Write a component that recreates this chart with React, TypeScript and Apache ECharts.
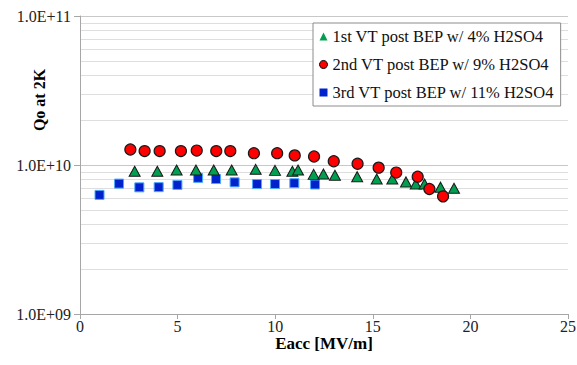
import React, { useEffect, useRef } from "react";
import * as echarts from "echarts";

const seriesNames = [
  "1st VT post BEP w/ 4% H2SO4",
  "2nd VT post BEP w/ 9% H2SO4",
  "3rd VT post BEP w/ 11% H2SO4",
];

const vt1Eacc = [2.8, 3.96, 4.95, 5.94, 6.85, 7.77, 9.0, 9.99, 10.88, 11.17, 11.97, 12.47, 13.06, 14.2, 15.2, 16.0, 16.7, 17.2, 17.65, 18.47, 19.16];
const vt1Q = [9.08e9, 9.08e9, 9.25e9, 9.25e9, 9.25e9, 9.25e9, 9.35e9, 9.2e9, 9.08e9, 9.25e9, 8.65e9, 8.7e9, 8.53e9, 8.35e9, 8.06e9, 8.06e9, 7.7e9, 7.45e9, 7.45e9, 7.1e9, 6.98e9];

const vt2Eacc = [2.58, 3.31, 4.08, 5.17, 5.98, 6.98, 7.7, 8.91, 10.1, 11.0, 11.99, 13.0, 14.22, 15.3, 16.2, 17.3, 17.9, 18.6];
const vt2Q = [1.27e10, 1.24e10, 1.24e10, 1.24e10, 1.25e10, 1.24e10, 1.24e10, 1.2e10, 1.2e10, 1.16e10, 1.14e10, 1.06e10, 1.02e10, 9.6e9, 8.9e9, 8.35e9, 6.9e9, 6.16e9];

const vt3Eacc = [1.0, 2.0, 3.04, 4.03, 4.99, 6.05, 6.97, 7.92, 9.07, 9.99, 10.98, 12.04];
const vt3Q = [6.3e9, 7.5e9, 7.08e9, 7.1e9, 7.35e9, 8.2e9, 8.05e9, 7.65e9, 7.45e9, 7.45e9, 7.55e9, 7.4e9];

const minorGridValues = [2e9, 3e9, 4e9, 5e9, 6e9, 7e9, 8e9, 9e9, 2e10, 3e10, 4e10, 5e10, 6e10, 7e10, 8e10, 9e10];

const FONT = "Liberation Serif";

const zip = (xs: number[], ys: number[]) => xs.map((x, i) => [x, ys[i]]);

export default function App() {
  const ref = useRef<HTMLDivElement>(null);
  useEffect(() => {
    if (!ref.current) return;
    const chart = echarts.init(ref.current, null, { renderer: "svg" });
    chart.setOption({
      animation: false,
      backgroundColor: "#ffffff",
      textStyle: { fontFamily: FONT },
      grid: { left: 80, right: 9, top: 16, bottom: 51, containLabel: false, outerBoundsMode: "none" },
      xAxis: {
        type: "value",
        min: 0,
        max: 25,
        interval: 5,
        name: "Eacc [MV/m]",
        nameLocation: "middle",
        nameGap: 21,
        nameMoveOverlap: false,
        nameTextStyle: { fontFamily: FONT, fontWeight: "bold", fontSize: 17, color: "#000" },
        axisLine: { show: true, lineStyle: { color: "#a6a6a6" } },
        axisTick: { show: true, inside: false, length: 5, lineStyle: { color: "#a6a6a6" } },
        axisLabel: { fontFamily: FONT, fontSize: 16, color: "#222", margin: 4 },
        splitLine: { show: false },
      },
      yAxis: {
        type: "log",
        logBase: 10,
        min: 1e9,
        max: 1e11,
        name: "Qo at 2K",
        nameLocation: "middle",
        nameRotate: 90,
        nameGap: 33,
        nameMoveOverlap: false,
        nameTextStyle: {
          fontFamily: FONT,
          fontWeight: "bold",
          fontSize: 16,
          color: "#000",
          padding: [0, 0, 0, 130],
        },
        axisLine: { show: true, lineStyle: { color: "#a6a6a6" } },
        axisTick: { show: true, inside: false, length: 6, lineStyle: { color: "#a6a6a6" } },
        axisLabel: {
          fontFamily: FONT,
          fontSize: 16,
          color: "#222",
          margin: 9,
          formatter: (v: number) => {
            const e = Math.round(Math.log10(v));
            return "1.0E+" + String(e).padStart(2, "0");
          },
        },
        splitLine: { show: true, lineStyle: { color: "#c8c8c8", width: 1 } },
      },
      legend: {
        orient: "vertical",
        left: 313,
        top: 23,
        padding: [5, 6, 5, 6],
        itemGap: 11,
        itemWidth: 8,
        itemHeight: 8,
        backgroundColor: "#ffffff",
        borderColor: "#8c8c8c",
        borderWidth: 1,
        textStyle: { fontFamily: FONT, fontSize: 16.5, color: "#111" },
        data: [
          { name: seriesNames[0], icon: "triangle", itemStyle: { color: "#00a050", borderWidth: 0 } },
          { name: seriesNames[1], icon: "circle", itemStyle: { color: "#ff0000", borderColor: "#000", borderWidth: 1 } },
          { name: seriesNames[2], icon: "rect", itemStyle: { color: "#0022cc", borderWidth: 0 } },
        ],
      },
      series: [
        {
          name: "minorGrid",
          type: "scatter",
          data: [],
          z: 0,
          silent: true,
          markLine: {
            silent: true,
            z: 0,
            symbol: ["none", "none"],
            label: { show: false },
            emphasis: { disabled: true },
            lineStyle: { color: "#dedede", width: 1, type: "solid" },
            data: minorGridValues.map((v) => ({ yAxis: v })),
          },
        },
        {
          name: seriesNames[0],
          type: "scatter",
          symbol: "triangle",
          symbolSize: [11, 10],
          itemStyle: { color: "#00a050", borderColor: "#1a1a1a", borderWidth: 1, opacity: 1 },
          data: zip(vt1Eacc, vt1Q),
          z: 3,
        },
        {
          name: seriesNames[1],
          type: "scatter",
          symbol: "circle",
          symbolSize: 11,
          itemStyle: { color: "#ff0000", borderColor: "#1a1a1a", borderWidth: 1.2, opacity: 1 },
          data: zip(vt2Eacc, vt2Q),
          z: 4,
        },
        {
          name: seriesNames[2],
          type: "scatter",
          symbol: "rect",
          symbolSize: 9,
          itemStyle: { color: "#0022cc", borderColor: "#4aa8ff", borderWidth: 1, opacity: 1 },
          data: zip(vt3Eacc, vt3Q),
          z: 2,
        },
      ],
    });
    return () => chart.dispose();
  }, []);
  return (
    <div
      ref={ref}
      style={{ position: "absolute", left: 0, top: 0, width: 577, height: 365 }}
    />
  );
}
